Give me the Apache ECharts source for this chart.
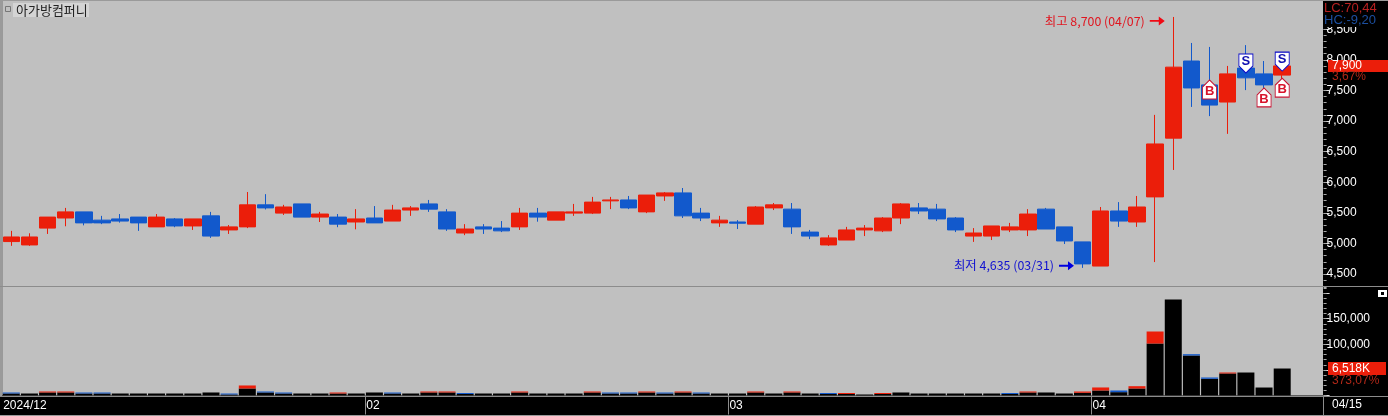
<!DOCTYPE html>
<html><head><meta charset="utf-8">
<style>html,body{margin:0;padding:0;background:#000}#c{width:1388px;height:416px}</style>
<script src="https://cdn.jsdelivr.net/npm/echarts@6/dist/echarts.min.js"></script></head>
<body><div id="c"></div>
<script>
const dates = ['12/27','12/30','01/02','01/03','01/06','01/07','01/08','01/09','01/10','01/13','01/14','01/15','01/16','01/17','01/20','01/21','01/22','01/23','01/24','01/31',
'02/03','02/04','02/05','02/06','02/07','02/10','02/11','02/12','02/13','02/14','02/17','02/18','02/19','02/20','02/21','02/24','02/25','02/26','02/27','02/28',
'03/04','03/05','03/06','03/07','03/10','03/11','03/12','03/13','03/14','03/17','03/18','03/19','03/20','03/21','03/24','03/25','03/26','03/27','03/28','03/31',
'04/01','04/02','04/03','04/04','04/07','04/08','04/09','04/10','04/11','04/14','04/15','',''];
const open  = [5030,4975,5250,5415,5515,5380,5400,5430,5270,5400,5285,5450,5220,5270,5630,5495,5645,5430,5430,5350,5415,5365,5545,5645,5515,5170,5270,5250,5270,5495,5380,5495,5495,5695,5710,5515,5775,5825,5495,5335,5350,5315,5580,5560,5185,4975,5055,5220,5205,5415,5580,5560,5415,5120,5120,5220,5220,5560,5270,5025,4630,5530,5350,5760,6720,7980,7590,7310,7865,7770,7750];
const close = [5105,5105,5430,5515,5335,5335,5365,5335,5430,5285,5400,5120,5270,5630,5580,5595,5430,5480,5315,5400,5335,5545,5580,5560,5235,5235,5235,5205,5495,5430,5515,5515,5675,5710,5580,5790,5825,5450,5415,5380,5330,5595,5630,5270,5120,5090,5220,5250,5415,5645,5530,5400,5220,5170,5285,5270,5480,5235,5040,4665,5530,5365,5595,6625,7880,7540,7260,7770,7705,7590,7900];
const low   = [4960,4960,5155,5280,5295,5315,5340,5205,5270,5265,5220,5090,5155,5250,5555,5465,5430,5350,5265,5230,5335,5365,5450,5515,5205,5135,5155,5185,5220,5355,5380,5450,5480,5560,5560,5495,5695,5415,5365,5270,5235,5315,5545,5155,5070,4960,5055,5120,5185,5315,5480,5365,5185,5025,5055,5185,5120,5235,4990,4600,4630,5270,5270,4695,6200,7230,7080,6790,7505,7540,7685];
const high  = [5205,5165,5430,5580,5515,5450,5480,5430,5480,5415,5400,5515,5300,5840,5805,5630,5645,5515,5480,5560,5610,5630,5610,5710,5560,5315,5315,5365,5580,5580,5515,5645,5760,5760,5775,5790,5840,5905,5580,5450,5380,5610,5660,5660,5220,5135,5270,5300,5430,5660,5660,5645,5430,5250,5285,5335,5560,5580,5270,5025,5595,5675,5775,7100,8700,8275,8210,7900,8240,7980,8000];
const volBlack = [3900,3900,5900,5900,3900,3900,3900,3900,3900,3900,3900,5900,1950,13700,5900,3900,3900,3900,3900,3900,5900,3900,3900,5900,5900,2900,3900,3900,5900,3900,3900,3900,5900,3900,3900,5900,3900,5900,3900,3900,3900,5900,3900,5900,3900,2900,2900,1950,2900,5900,3900,3900,3900,3900,3900,2900,5900,5900,3900,5300,9800,6500,13700,101500,187500,78100,32600,43000,44900,15600,52700];
const volRed   = [0,0,1950,1950,0,0,0,0,0,0,0,0,0,5900,0,0,0,0,1950,0,0,0,0,1950,1950,0,0,0,1950,0,0,0,1950,0,0,1950,0,1950,0,0,0,1950,0,1950,0,0,2000,0,2000,0,0,0,0,0,0,0,1950,0,0,2500,5900,0,4500,23500,0,0,0,1900,0,0,0];
const volBlue  = [1950,0,0,0,1950,1950,0,0,0,0,0,0,1950,0,1950,1950,0,0,0,0,0,1950,0,0,0,2000,0,0,0,0,0,0,0,1950,1950,0,1950,0,1950,0,0,0,0,0,0,2000,0,0,0,0,0,0,0,0,0,2000,0,0,0,0,0,3300,0,0,0,2600,2600,0,0,0,0];
const priceTicks = [4500,5000,5500,6000,6500,7000,7500,8000,8500];
const volumeTicks = [100000,150000];
const volumeMajorTicks = [0,50000,100000,150000,200000];
const monthStarts = [0,20,40,60];
const monthNames = ['2024/12','02','03','04'];
const sellSignals = [[68,7785],[70,7815]];
const buySignals  = [[66,7670],[69,7540],[70,7700]];
const highNote = {index:64, value:8700, text:'최고 8,700 (04/07)'};
const lowNote  = {index:59, value:4635, text:'최저 4,635 (03/31)'};

const RED='#eb1e0a', BLUE='#1259cc', BG='#c0c0c0', DIM='#b02818';
const NUM='"Liberation Sans Narrow","Liberation Sans",sans-serif';
const KR='"Liberation Sans Narrow","Noto Sans CJK KR",sans-serif';
const LEFT=2.2, WIDTH=1325.4;
const fmt=v=>String(v).replace(/\B(?=(\d{3})+$)/g,',');
const candle=open.map((o,i)=>[o,close[i],low[i],high[i]]);
const txt=(x,y,t,fill,size,font,z)=>({type:'text',z:z||12,style:{x,y,text:t,fill,font:(size||12)+'px '+(font||NUM),textVerticalAlign:'middle'},silent:true});
const rect=(x,y,w,h,fill,z)=>({type:'rect',z:z||1,shape:{x,y,width:w,height:h},style:{fill},silent:true});
const arrow='path://M0 4 L9 4 L9 0 L15 5 L9 10 L9 6 L0 6 Z';
const sPath='path://M0 0 L14 0 L14 12 L7 19 L0 12 Z';
const bPath='path://M7 0 L14 7 L14 19 L0 19 L0 7 Z';
const yBase={type:'value',position:'right',offset:-4,scale:false,splitLine:{show:false},axisLine:{show:false,onZero:false},z:5};

const chart=echarts.init(document.getElementById('c'),null,{renderer:'canvas'});
chart.setOption({
 animation:false,backgroundColor:'#000',
 grid:[
  {left:LEFT,width:WIDTH,top:1.05,height:285.2,show:true,backgroundColor:BG,borderWidth:0},
  {left:LEFT,width:WIDTH,top:287,height:108.5,show:true,backgroundColor:BG,borderWidth:0}
 ],
 xAxis:[
  {type:'category',gridIndex:0,data:dates,boundaryGap:true,show:false},
  {type:'category',gridIndex:1,data:dates,boundaryGap:true,show:false},
  {type:'value',gridIndex:1,position:'bottom',min:0,max:dates.length,splitLine:{show:false},axisLine:{show:false,onZero:false},z:5,
   axisTick:{show:true,customValues:monthStarts.slice(1),length:19,inside:false,lineStyle:{color:'#8c8c8c',width:1}},
   axisLabel:{show:true,customValues:monthStarts,align:'left',margin:4,padding:[0,0,0,1],color:'#fff',fontSize:12,fontFamily:NUM,hideOverlap:false,showMinLabel:true,
     formatter:v=>monthNames[monthStarts.indexOf(v)]}}
 ],
 yAxis:[
  Object.assign({},yBase,{gridIndex:0,min:4300,max:8960,
    axisTick:{show:true,customValues:priceTicks,length:6,lineStyle:{color:'#ddd'}},
    axisLabel:{show:true,customValues:priceTicks,margin:3,color:'#fff',fontSize:12,fontFamily:NUM,align:'left',formatter:fmt}}),
  Object.assign({},yBase,{gridIndex:0,min:4300,max:8960,interval:100,axisLabel:{show:false},axisTick:{show:true,length:3,lineStyle:{color:'#aaa'}}}),
  Object.assign({},yBase,{gridIndex:1,min:0,max:211900,
    axisTick:{show:true,customValues:volumeMajorTicks,length:6,lineStyle:{color:'#ddd'}},
    axisLabel:{show:true,customValues:volumeTicks,margin:3,color:'#fff',fontSize:12,fontFamily:NUM,align:'left',formatter:fmt}}),
  Object.assign({},yBase,{gridIndex:1,min:0,max:211900,interval:10000,axisLabel:{show:false},axisTick:{show:true,length:3,lineStyle:{color:'#aaa'}}})
 ],
 series:[
  {type:'candlestick',xAxisIndex:0,yAxisIndex:0,data:candle,barWidth:17,
   itemStyle:{color:RED,color0:BLUE,borderColor:RED,borderColor0:BLUE,borderWidth:1}},
  {type:'bar',xAxisIndex:1,yAxisIndex:2,stack:'v',data:volBlack,barWidth:17,itemStyle:{color:'#000'}},
  {type:'bar',xAxisIndex:1,yAxisIndex:2,stack:'v',data:volRed,barWidth:17,itemStyle:{color:RED}},
  {type:'bar',xAxisIndex:1,yAxisIndex:2,stack:'v',data:volBlue,barWidth:17,itemStyle:{color:BLUE}},
  {type:'scatter',xAxisIndex:0,yAxisIndex:0,z:6,data:sellSignals,symbol:sPath,symbolSize:[14,19],symbolOffset:[0,'-50%'],
   itemStyle:{color:'#fff',borderColor:'#0a0ac8',borderWidth:1,opacity:1},
   label:{show:true,position:'inside',offset:[0,-2],formatter:'S',color:'#1010b0',fontSize:13,fontWeight:'bold',fontFamily:'"Liberation Sans",sans-serif'}},
  {type:'scatter',xAxisIndex:0,yAxisIndex:0,z:6,data:buySignals,symbol:bPath,symbolSize:[14,19],symbolOffset:[0,'50%'],
   itemStyle:{color:'#fff',borderColor:'#c81432',borderWidth:1,opacity:1},
   label:{show:true,position:'inside',offset:[0,2],formatter:'B',color:'#d8142c',fontSize:13,fontWeight:'bold',fontFamily:'"Liberation Sans",sans-serif'}},
  {type:'scatter',xAxisIndex:0,yAxisIndex:0,z:6,symbol:arrow,symbolSize:[15,9],symbolOffset:[-16,4],
   data:[{value:[highNote.index,highNote.value],label:{formatter:highNote.text}}],
   itemStyle:{color:'#f00a14',opacity:1},
   label:{show:true,position:'left',distance:5,color:'#e0141e',fontSize:12.4,fontFamily:KR}},
  {type:'scatter',xAxisIndex:0,yAxisIndex:0,z:6,symbol:arrow,symbolSize:[15,9],symbolOffset:[-16,0],
   data:[{value:[lowNote.index,lowNote.value],label:{formatter:lowNote.text}}],
   itemStyle:{color:'#0000e0',opacity:1},
   label:{show:true,position:'left',distance:5,color:'#1010d0',fontSize:12.4,fontFamily:KR}}
 ],
 graphic:[
  rect(1323,0,65,416,'#000',1),
  rect(0,396.5,1388,19,'#000',1),
  rect(0,0,1388,1,'#9a9a9a',9),
  rect(0,0,2,396,'#9a9a9a',9),
  rect(0,286,1388,1,'#8c8c8c',9),
  rect(0,396,1388,1,'#8c8c8c',9),
  rect(0,415,1388,1,'#9a9a9a',9),
  rect(1323,397,1,18,'#8c8c8c',9),
  rect(1323,1,65,26,'#000',10),
  rect(13,3,76,14,'#d4d4d4',10),
  {type:'rect',z:11,shape:{x:5.5,y:6.5,width:5,height:5},style:{fill:'none',stroke:'#777'},silent:true},
  txt(16,10,'아가방컴퍼니','#222',13,'"Noto Sans CJK KR",sans-serif'),
  txt(1324,8,'LC:70,44','#b82020',13),
  txt(1324,20,'HC:-9,20','#1c4fa0',13),
  rect(1328,60,60,12,RED,10),
  txt(1332,66,'7,900','#fff',12),
  txt(1332,77,'3,67%',DIM,12),
  rect(1328,362,58,13,RED,10),
  txt(1332,368.5,'6,518K','#fff',12),
  txt(1332,381,'373,07%',DIM,12),
  rect(1378,290,9,7,'#fff',10),
  rect(1381,292,3,3,'#000',11),
  txt(1332,405,'04/15','#fff',12)
 ]
});
</script></body></html>
